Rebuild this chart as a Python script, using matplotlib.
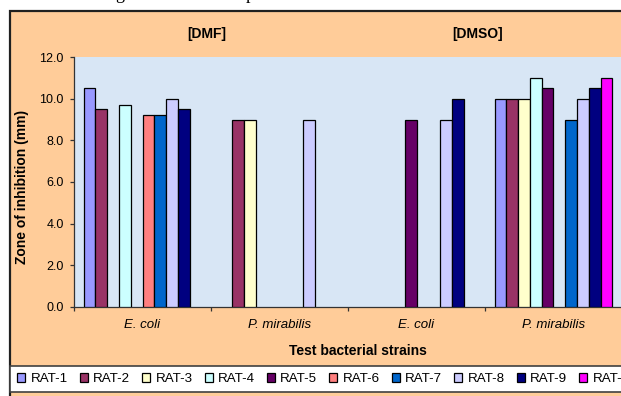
import numpy as np
import matplotlib
matplotlib.use("Agg")
import matplotlib.pyplot as plt
from matplotlib.patches import Rectangle

###########
# Data:
###########

categories = ["E. coli", "P. mirabilis", "E. coli", "P. mirabilis"]
series_names = ["RAT-1", "RAT-2", "RAT-3", "RAT-4", "RAT-5",
                "RAT-6", "RAT-7", "RAT-8", "RAT-9", "RAT-10"]
# one list per series, values for the 4 categories (0 = no zone)
rat_1 = [10.5, 0.0, 0.0, 10.0]
rat_2 = [9.5, 9.0, 0.0, 10.0]
rat_3 = [0.0, 9.0, 0.0, 10.0]
rat_4 = [9.7, 0.0, 0.0, 11.0]
rat_5 = [0.0, 0.0, 9.0, 10.5]
rat_6 = [9.2, 0.0, 0.0, 0.0]
rat_7 = [9.2, 0.0, 0.0, 9.0]
rat_8 = [10.0, 9.0, 9.0, 10.0]
rat_9 = [9.5, 0.0, 10.0, 10.5]
rat_10 = [0.0, 0.0, 0.0, 11.0]
series_values = [rat_1, rat_2, rat_3, rat_4, rat_5,
                 rat_6, rat_7, rat_8, rat_9, rat_10]
y_ticks = [0, 2, 4, 6, 8, 10, 12]
group_titles = ["[DMF]", "[DMSO]"]

colors = ["#9999FF", "#993366", "#FFFFCC", "#CCFFFF", "#660066",
          "#FF8080", "#0066CC", "#CCCCFF", "#000080", "#FF00FF"]

###########
# Figure:
###########

plt.rcParams['font.family'] = ['Liberation Sans', 'DejaVu Sans']

W, H = 621, 396
fig = plt.figure(figsize=(W / 100, H / 100), dpi=100, facecolor="white")

# chart area (peach) with dark frame, runs off the right/bottom edge
fig.patches.append(Rectangle((10 / W, -0.1), 1.2, 1 - 10.7 / H + 0.1,
                             transform=fig.transFigure, facecolor="#FFCC99",
                             edgecolor="#202020", linewidth=1.6, zorder=-5))

# bits of the document text above the chart
fig.text(120 / W, 1 + 0.6 / H, "g", family="Liberation Serif", fontsize=13,
         va="baseline", ha="center")
fig.text(250 / W, 1 + 0.6 / H, "p", family="Liberation Serif", fontsize=13,
         va="baseline", ha="center")

ax = fig.add_axes([74 / W, 1 - 306.7 / H, 548 / W, (306.7 - 57.3) / H])
ax.set_facecolor("#D8E6F5")

n_series = len(series_names)
bar_w = 0.086
x = np.arange(len(categories))
handles = []
for i in range(n_series):
    vals = np.array(series_values[i], dtype=float)
    heights = np.where(vals > 0, vals, np.nan)
    offs = (i - (n_series - 1) / 2) * bar_w
    b = ax.bar(x + offs, heights, width=bar_w, color=colors[i],
               edgecolor="black", linewidth=0.9, label=series_names[i], zorder=3)
    handles.append(b)

ax.set_xlim(-0.5, len(categories) - 0.5)
ax.set_ylim(0, 12)
ax.set_yticks(y_ticks)
ax.set_yticklabels(["%.1f" % t for t in y_ticks], fontsize=9)

ax.set_xticks(np.arange(len(categories) + 1) - 0.5)
ax.set_xticklabels([])
ax.set_xticks(x, minor=True)
ax.set_xticklabels(categories, minor=True, fontsize=9.5, style="italic")
ax.tick_params(axis="x", which="minor", length=0, pad=8.5)
ax.tick_params(axis="x", which="major", length=3, width=0.9, color="#333333")
ax.tick_params(axis="y", length=3, width=0.9, color="#333333", pad=4.5)

for s in ["top", "right"]:
    ax.spines[s].set_visible(False)
for s in ["left", "bottom"]:
    ax.spines[s].set_color("#333333")
    ax.spines[s].set_linewidth(0.9)

# titles and axis labels
fig.text(207 / W, 1 - 34 / H, group_titles[0], fontsize=10, weight="bold",
         ha="center", va="center")
fig.text(478 / W, 1 - 34 / H, group_titles[1], fontsize=10, weight="bold",
         ha="center", va="center")
fig.text(358 / W, 1 - 350.7 / H, "Test bacterial strains", fontsize=10,
         weight="bold", ha="center", va="center")
fig.text(22 / W, 1 - 187 / H, "Zone of inhibition (mm)", fontsize=10,
         weight="bold", rotation=90, ha="center", va="center")

# legend box across the bottom
leg = fig.legend(handles=handles, loc="upper left", ncol=n_series,
                 bbox_to_anchor=(10 / W, 1 - 365.7 / H), borderaxespad=0,
                 fontsize=9.6, handlelength=0.6, handleheight=0.6,
                 handletextpad=0.4, columnspacing=0.9, borderpad=0.55,
                 fancybox=False, framealpha=1, facecolor="white",
                 edgecolor="#404040")
leg.get_frame().set_linewidth(1.2)

fig.savefig("out.png", dpi=100)
